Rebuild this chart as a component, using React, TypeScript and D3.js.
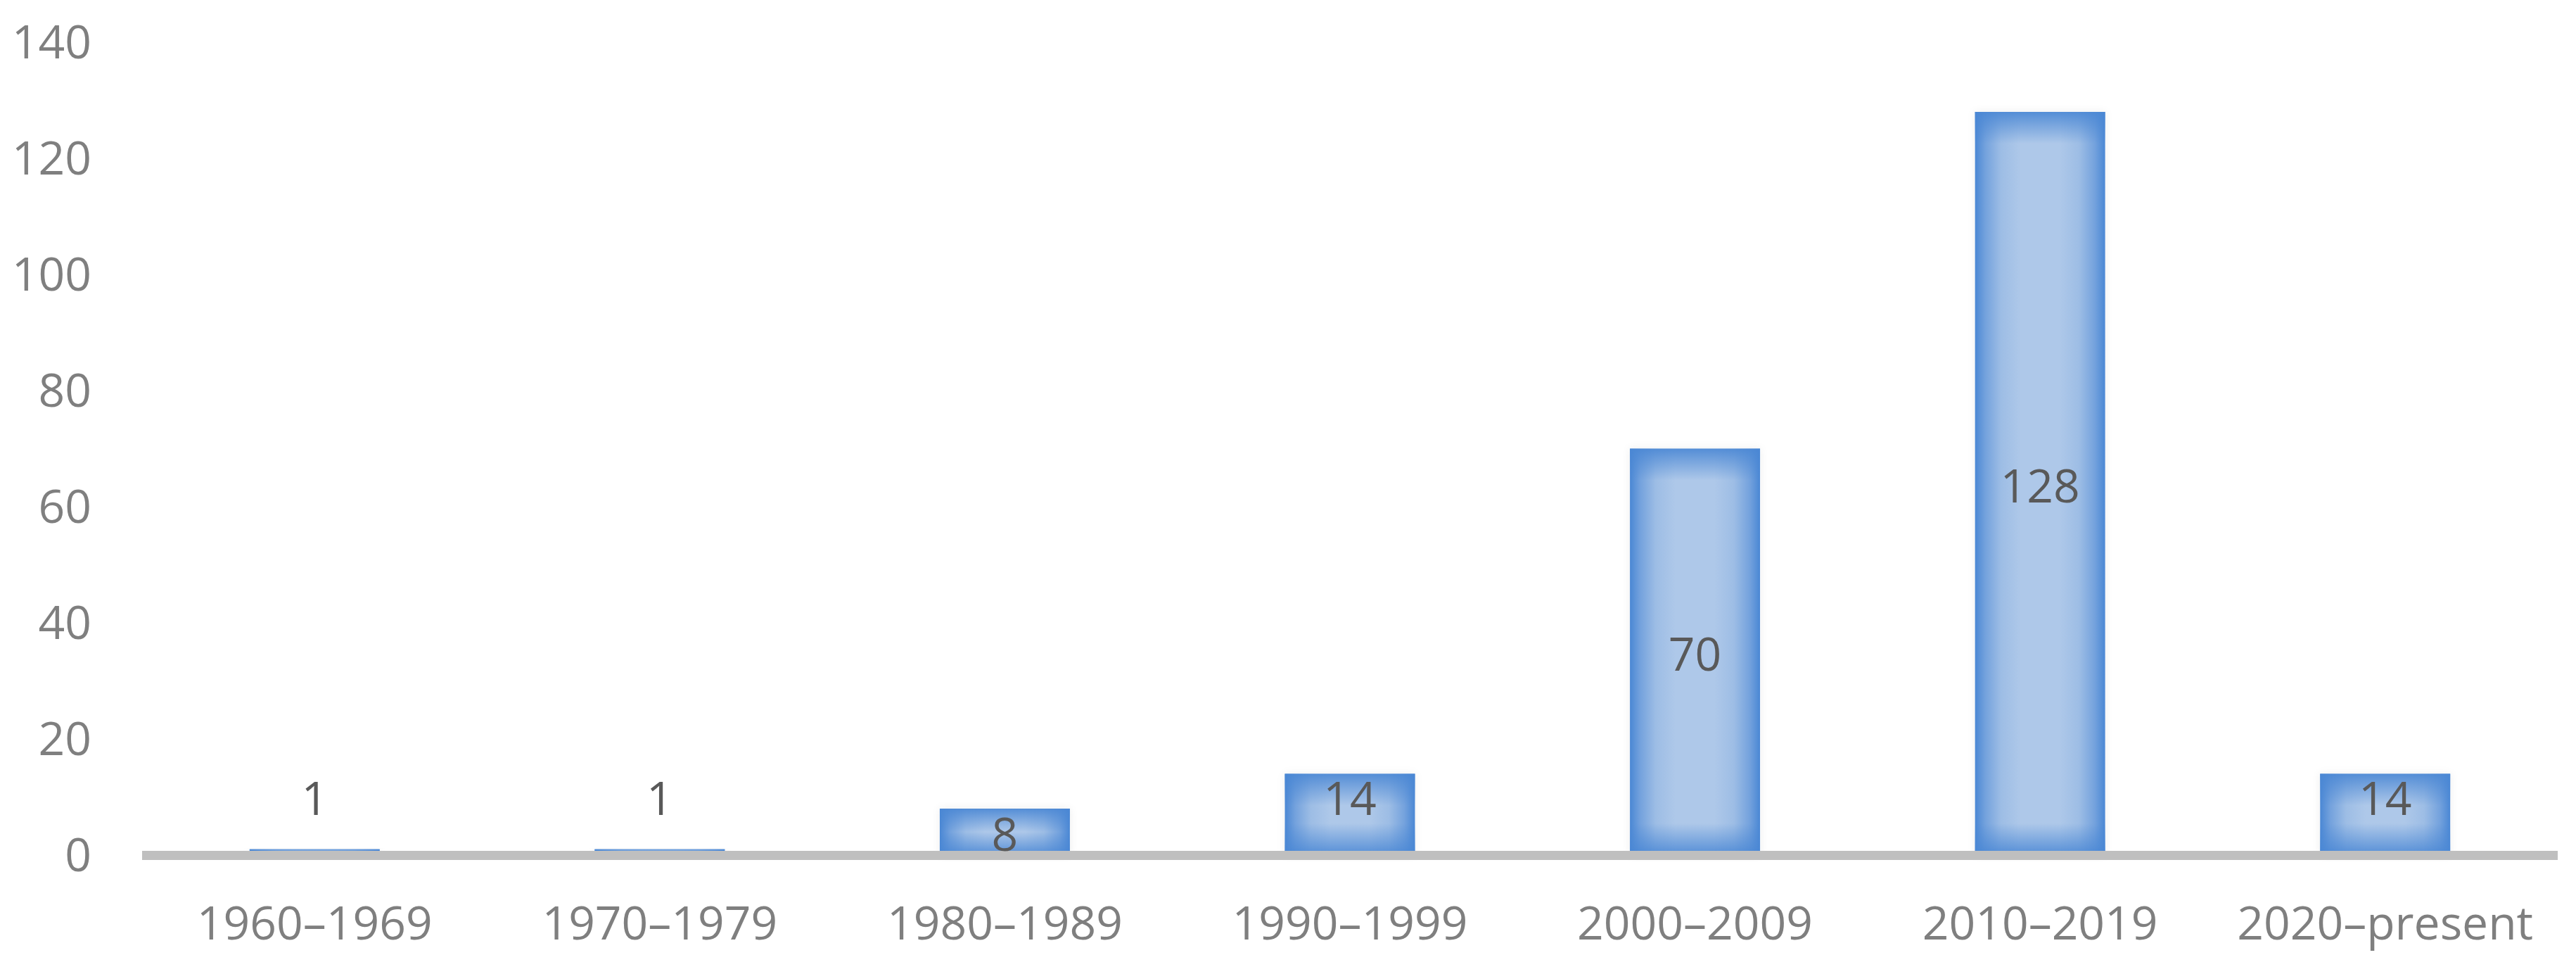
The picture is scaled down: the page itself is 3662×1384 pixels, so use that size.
import React from "react";
import * as d3 from "d3";

const categories = ["1960–1969", "1970–1979", "1980–1989", "1990–1999", "2000–2009", "2010–2019", "2020–present"];
const values = [1, 1, 8, 14, 70, 128, 14];
const labelPositions = ["outsideEnd", "outsideEnd", "center", "insideEnd", "center", "center", "insideEnd"];
const yTicks = [0, 20, 40, 60, 80, 100, 120, 140];

const W = 3662;
const H = 1384;
const FONT = "'Open Sans', 'Noto Sans', sans-serif";
const EDGE = "#4a87d4";
const LIGHT = "#aec8e9";

export default function App() {
  const x = d3.scaleBand<string>().domain(categories).range([202, 3636]).paddingInner(0.623).paddingOuter(0.3115);
  const y = d3.scaleLinear().domain([0, 140]).range([1215, 60]);
  const bw = x.bandwidth();

  return (
    <div style={{ position: "fixed", left: 0, top: 0, width: W, height: H, background: "#fff" }}>
      <svg width={W} height={H} viewBox={`0 0 ${W} ${H}`} style={{ display: "block" }}>
        <defs>
          <linearGradient id="hgrad" x1="0" y1="0" x2="1" y2="0">
            <stop offset="0" stopColor={EDGE} />
            <stop offset="0.08" stopColor="#74a2dd" />
            <stop offset="0.2" stopColor="#9dbde5" />
            <stop offset="0.35" stopColor={LIGHT} />
            <stop offset="0.65" stopColor={LIGHT} />
            <stop offset="0.8" stopColor="#9dbde5" />
            <stop offset="0.92" stopColor="#74a2dd" />
            <stop offset="1" stopColor={EDGE} />
          </linearGradient>
          <filter id="glow" x="-20%" y="-20%" width="140%" height="140%">
            <feDropShadow dx="0" dy="0" stdDeviation="6" floodColor="#000" floodOpacity="0.07" />
          </filter>
          {values.map((v, i) => {
            const top = y(v);
            const bottom = y(0);
            const h = bottom - top;
            const band = Math.min(45, h / 2);
            return (
              <React.Fragment key={i}>
                <linearGradient id={`vt${i}`} gradientUnits="userSpaceOnUse" x1="0" y1={top} x2="0" y2={top + band}>
                  <stop offset="0" stopColor={EDGE} stopOpacity="0.9" />
                  <stop offset="1" stopColor={EDGE} stopOpacity="0" />
                </linearGradient>
                <linearGradient id={`vb${i}`} gradientUnits="userSpaceOnUse" x1="0" y1={bottom} x2="0" y2={bottom - band}>
                  <stop offset="0" stopColor={EDGE} stopOpacity="0.9" />
                  <stop offset="1" stopColor={EDGE} stopOpacity="0" />
                </linearGradient>
              </React.Fragment>
            );
          })}
        </defs>

        {/* bars */}
        {values.map((v, i) => {
          const bx = x(categories[i])!;
          const top = y(v);
          const h = y(0) - top;
          return (
            <g key={i}>
              <rect x={bx} y={top} width={bw} height={h} fill="#fff" filter="url(#glow)" />
              <rect x={bx} y={top} width={bw} height={h} fill="url(#hgrad)" />
              <rect x={bx} y={top} width={bw} height={h} fill={`url(#vt${i})`} />
              <rect x={bx} y={top} width={bw} height={h} fill={`url(#vb${i})`} />
            </g>
          );
        })}

        {/* axis line */}
        <line x1={202} x2={3636} y1={y(0) + 0.5} y2={y(0) + 0.5} stroke="#bfbfbf" strokeWidth={13} />

        {/* y tick labels */}
        {yTicks.map((t) => (
          <text key={t} x={130} y={y(t)} dy="0.35em" textAnchor="end" fontFamily={FONT} fontSize={66} fill="#7f7f7f">
            {t}
          </text>
        ))}

        {/* x labels */}
        {categories.map((c) => (
          <text key={c} x={x(c)! + bw / 2} y={1335} textAnchor="middle" fontFamily={FONT} fontSize={66} fill="#7f7f7f">
            {c}
          </text>
        ))}

        {/* data labels */}
        {values.map((v, i) => {
          const cx = x(categories[i])! + bw / 2;
          const top = y(v);
          const pos = labelPositions[i];
          let baseline: number;
          if (pos === "outsideEnd") baseline = top - 49;
          else if (pos === "insideEnd") baseline = top + 58;
          else baseline = (top + y(0)) / 2 + 3 + 24;
          return (
            <text key={i} x={cx} y={baseline} textAnchor="middle" fontFamily={FONT} fontSize={66} fill="#595959">
              {v}
            </text>
          );
        })}
      </svg>
    </div>
  );
}
